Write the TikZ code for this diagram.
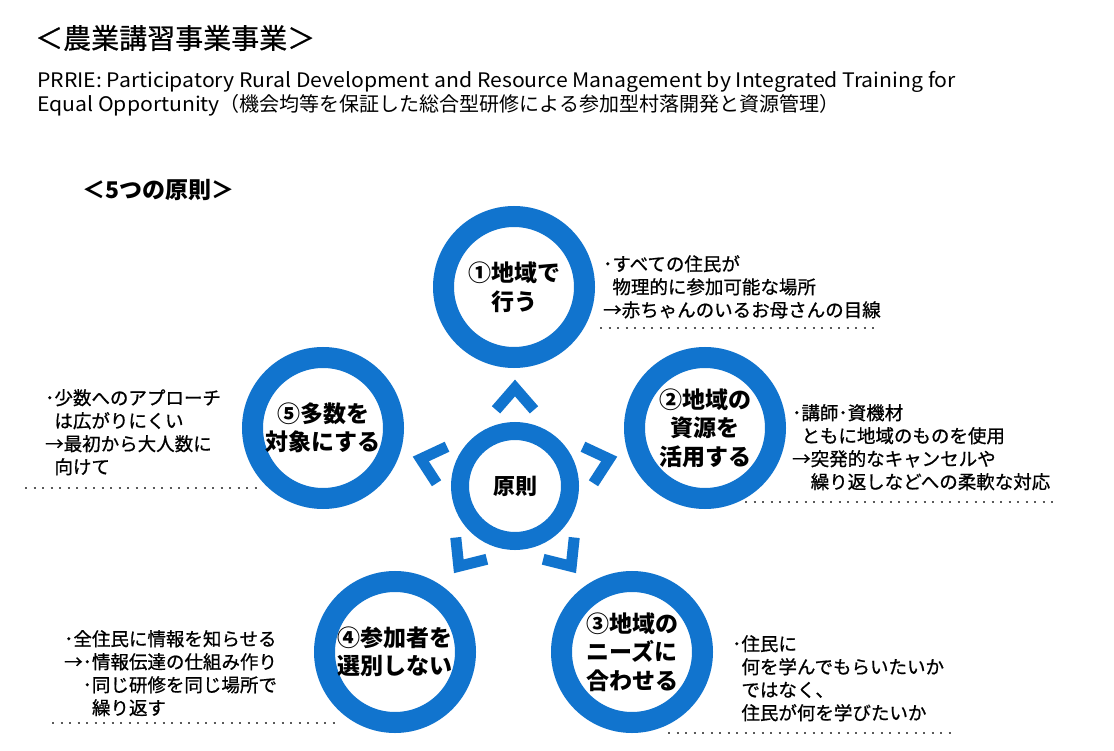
\documentclass[tikz,border=0pt]{standalone}
\usepackage{fontspec}
\setmainfont{Noto Sans CJK JP}
\newfontfamily\latinfont{Noto Sans CJK JP}[FakeStretch=1.06]
\newfontfamily\notefont{Noto Sans CJK JP}[FakeBold=0.8]
\newfontfamily\titlefont{Noto Sans CJK JP}[FakeBold=0.6]
\usetikzlibrary{positioning,calc,fadings}
\definecolor{ringblue}{RGB}{17,116,206}
\definecolor{dotgray}{RGB}{90,90,90}
\tikzfading[name=sidefade, left color=transparent!100, middle color=transparent!0, right color=transparent!100]

\begin{document}
\begin{tikzpicture}[
    x=1pt, y=-1pt,
    ring/.style={circle, draw=ringblue, line width=21pt, minimum size=141pt, inner sep=0pt, align=center, font=\fontsize{23}{28.5}\selectfont\bfseries},
    hubring/.style={circle, draw=ringblue, line width=18pt, minimum size=110pt, inner sep=0pt, font=\fontsize{22}{26}\selectfont\bfseries},
    note/.style={anchor=north west, align=left, inner sep=0pt, font=\notefont\fontsize{18.5}{23}\selectfont},
    chev/.style={draw=ringblue, line width=11pt, miter limit=10},
    dotline/.style={dotgray, line width=2pt, dash pattern=on 2pt off 6.5pt}
]
    \useasboundingbox[fill=white] (0,0) rectangle (1114,751);
    \fill[black, opacity=0.08, path fading=sidefade] (230,738) rectangle (980,751);

    % headings
    \node[anchor=west, inner sep=0pt, font=\titlefont\fontsize{28}{34}\selectfont] (title) at (35,38) {＜農業講習事業事業＞};
    \node[anchor=north west, align=left, inner sep=0pt, font=\fontsize{20}{24}\selectfont] (sub) at (37,71) {{\latinfont PRRIE: Participatory Rural Development and Resource Management by Integrated Training for}\\{\latinfont Equal Opportunity}（機会均等を保証した総合型研修による参加型村落開発と資源管理）};
    \node[anchor=west, inner sep=0pt, font=\fontsize{23}{28}\selectfont\bfseries] (head) at (82,190) {＜5つの原則＞};

    % rings
    \node[hubring] (hub) at (515,486) {原則};
    \node[ring] (p1) at (514,287) {①地域で\\行う};
    \node[ring] (p2) at (705,428) {②地域の\\資源を\\活用する};
    \node[ring] (p3) at (632,652) {③地域の\\ニーズに\\合わせる};
    \node[ring] (p4) at (395,652) {④参加者を\\選別しない};
    \node[ring] (p5) at (323,428) {⑤多数を\\対象にする};

    \foreach \a in {-90,-16,55,125,196}
        \draw[chev] ($(hub)+(\a+14:78.5)$) -- ($(hub)+(\a:98)$) -- ($(hub)+(\a-14:78.5)$);

    % notes
    \node[note] (n1) at (603,255) {･すべての住民が\\\phantom{･}物理的に参加可能な場所\\→赤ちゃんのいるお母さんの目線};
    \node[note] (n2) at (792,404) {･講師･資機材\\\phantom{･}ともに地域のものを使用\\→突発的なキャンセルや\\\phantom{→}繰り返しなどへの柔軟な対応};
    \node[note] (n3) at (732,635) {･住民に\\\phantom{･}何を学んでもらいたいか\\\phantom{･}ではなく、\\\phantom{･}住民が何を学びたいか};
    \node[note] (n4) at (64,630) {･全住民に情報を知らせる\\→･情報伝達の仕組み作り\\\phantom{→}･同じ研修を同じ場所で\\\phantom{→･}繰り返す};
    \node[note] (n5) at (45,389) {･少数へのアプローチ\\\phantom{･}は広がりにくい\\→最初から大人数に\\\phantom{･}向けて};

    \draw[dotline] (600,328) -- (880,328);
    \draw[dotline] (745,502) -- (1055,502);
    \draw[dotline] (668,733) -- (955,733);
    \draw[dotline] (52,723) -- (340,723);
    \draw[dotline] (25,488) -- (258,488);
\end{tikzpicture}
\end{document}
